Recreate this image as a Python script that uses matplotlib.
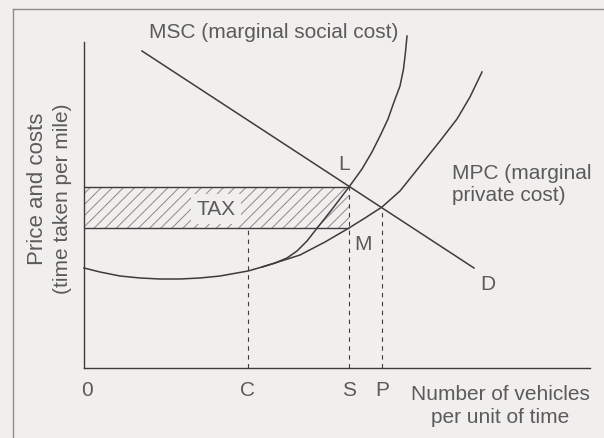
import matplotlib
matplotlib.use("Agg")
import matplotlib.pyplot as plt
from matplotlib.lines import Line2D

# curves (x = vehicles per unit of time, y = cost, arbitrary units)
mpc_x = [0, 16, 36, 56, 76, 96, 116, 136, 164, 178, 191, 216, 241, 265,
         281, 298, 316, 336, 356, 373, 386, 398]
mpc_y = [100, 96, 92, 90, 89, 89, 90, 92, 97, 101, 105, 113, 126, 140,
         150, 161, 177, 202, 227, 249, 271, 296]
msc_x = [178, 191, 203, 213, 223, 234, 249, 265, 278, 288, 297, 304,
         310, 316, 319.5, 321.5, 323]
msc_y = [101, 105, 110, 117, 127, 141, 160, 181, 199, 216, 234, 249,
         266, 282, 299, 316, 332]
d_x = [58, 390]
d_y = [317, 100]

# quantities on the x axis
q_labels = ["0", "C", "S", "P"]
q_values = [0, 164, 265, 298]
tax_low = 140    # M : MPC at S
tax_high = 181   # L : MSC at S
p_level = 160    # MPC meets D at P

bg = "#f0efed"
ink = "#3f3a3b"
txt = "#5b5b5b"
plt.rcParams["font.family"] = ["Liberation Sans", "DejaVu Sans"]
plt.rcParams["hatch.color"] = "#8a8a8a"
plt.rcParams["hatch.linewidth"] = 0.7

W, H = 604, 439
fig = plt.figure(figsize=(W / 100, H / 100), dpi=100, facecolor=bg)
ax = fig.add_axes([84 / W, 70 / H, 506 / W, 326 / H])
ax.set_facecolor(bg)
ax.set_xlim(0, 506)
ax.set_ylim(0, 326)
for s in ["top", "right"]:
    ax.spines[s].set_visible(False)
for s in ["left", "bottom"]:
    ax.spines[s].set_color(ink)
    ax.spines[s].set_linewidth(1.0)
ax.set_xticks([])
ax.set_yticks([])

# tax band
S = q_values[2]
ax.fill_between([0, S], tax_low, tax_high, facecolor=bg, hatch="///",
                edgecolor="#8a8a8a", linewidth=0)
ax.hlines([tax_low, tax_high], 0, S, color=ink, lw=1.0)
ax.text(132, 159, "TAX", fontsize=15, color=txt, ha="center", va="center",
        bbox=dict(facecolor=bg, edgecolor="none", pad=4))

# dashed guides
dash = (0, (4, 4))
ax.vlines(q_values[1], 0, tax_low, color=ink, lw=0.8, linestyles=[dash])
ax.vlines(q_values[2], 0, tax_high, color=ink, lw=0.8, linestyles=[dash])
ax.vlines(q_values[3], 0, p_level, color=ink, lw=0.8, linestyles=[dash])

# curves
ax.plot(d_x, d_y, color=ink, lw=1.1, clip_on=False)
ax.plot(mpc_x, mpc_y, color=ink, lw=1.1, clip_on=False, solid_joinstyle="round")
ax.plot(msc_x, msc_y, color=ink, lw=1.1, clip_on=False, solid_joinstyle="round")

# labels
fs = 15
for lab, q in zip(q_labels, q_values):
    ax.text(q + (3 if lab == "0" else 0), -22, lab, fontsize=fs, color=txt,
            ha="center", va="center", clip_on=False)
ax.text(416, -37, "Number of vehicles\nper unit of time", fontsize=fs, color=txt,
        ha="center", va="center", linespacing=1.25, clip_on=False)
ax.text(190, 336, "MSC (marginal social cost)", fontsize=fs, color=txt,
        ha="center", va="center", clip_on=False)
ax.text(368, 184, "MPC (marginal\nprivate cost)", fontsize=fs, color=txt,
        ha="left", va="center", linespacing=1.2, clip_on=False)
ax.text(260, 204, "L", fontsize=fs, color=txt, ha="center", va="center")
ax.text(279, 124, "M", fontsize=fs, color=txt, ha="center", va="center")
ax.text(404, 84, "D", fontsize=fs, color=txt, ha="center", va="center")

fig.text(38 / W, 1 - 189 / H, "Price and costs", fontsize=16, color=txt,
         rotation=90, ha="center", va="center")
fig.text(62 / W, 1 - 199 / H, "(time taken per mile)", fontsize=fs, color=txt,
         rotation=90, ha="center", va="center")

# page frame
fig.add_artist(Line2D([13 / W, 13 / W], [0, 1 - 10 / H], color="#8c8c8c", lw=1.0))
fig.add_artist(Line2D([13 / W, 1], [1 - 10 / H, 1 - 10 / H], color="#8c8c8c", lw=1.0))

fig.savefig("out.png", dpi=100, facecolor=bg)
